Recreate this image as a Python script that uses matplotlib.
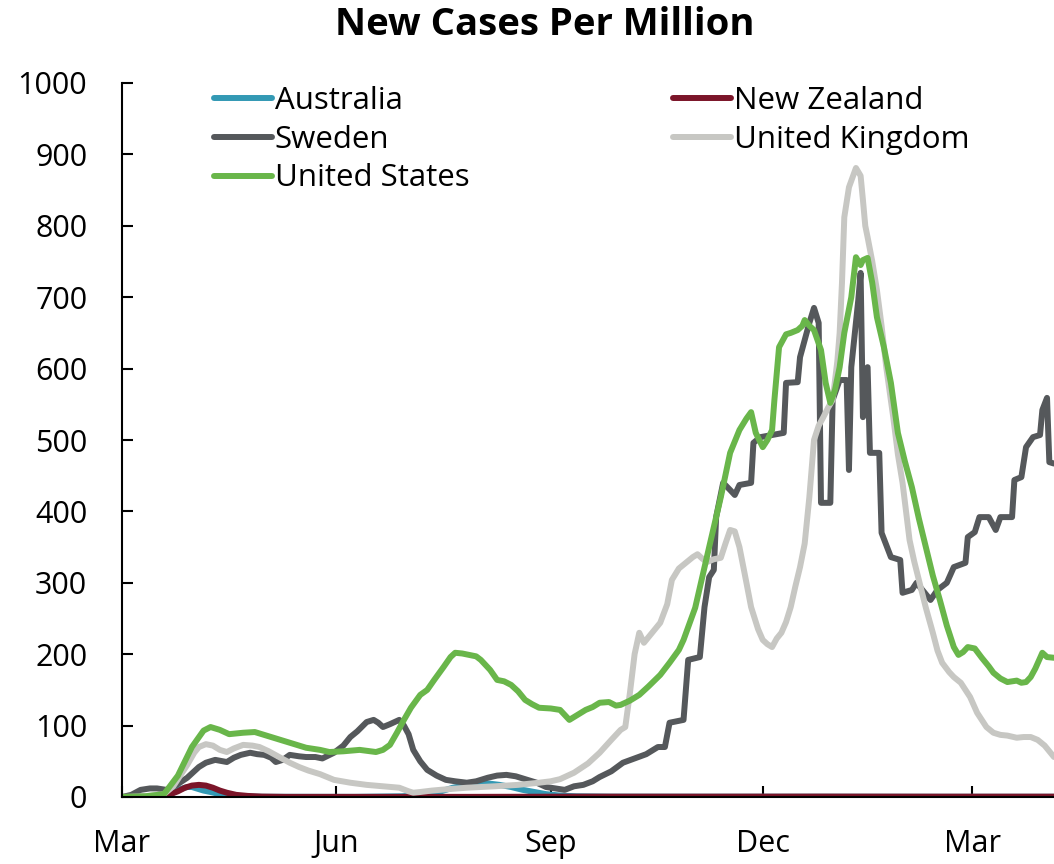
import matplotlib
matplotlib.use("Agg")
import matplotlib.pyplot as plt
import matplotlib.dates as mdates
import pandas as pd

plt.rcParams['font.family'] = ['Open Sans', 'DejaVu Sans']

# days since 1 Mar 2020, 7-day average new cases per million
START = pd.Timestamp('2020-03-01')

aus_day = [0, 14, 18, 22, 25, 28, 30, 32, 35, 38, 42, 46, 50, 60, 100, 120, 130, 137, 142, 147,
           152, 157, 162, 167, 172, 177, 182, 188, 195, 210, 250, 300, 350, 400]
aus_val = [0, 0.5, 2, 6, 11, 14, 14, 12, 9, 7, 4, 2, 1, 0.3, 0.2, 1, 3, 8, 13, 16,
           18, 19, 17, 14, 10, 7, 4, 2, 1, 0.5, 0.4, 0.4, 0.3, 0.3]

nz_day = [0, 16, 20, 24, 27, 30, 33, 36, 39, 42, 45, 49, 54, 60, 70, 150, 200, 250, 300, 350, 400]
nz_val = [0, 0.5, 3, 8, 13, 16, 17, 16, 13, 9, 6, 3, 1.5, 0.6, 0.2, 0.2, 0.5, 0.5, 0.6, 0.5, 0.5]

swe_day = [0, 4, 8, 12, 15, 19, 23, 28, 31, 33, 36, 40, 45, 48, 51, 55, 58, 61, 64, 66,
           69, 72, 76, 79, 83, 86, 91, 95, 98, 101, 105, 108, 110, 112, 115, 119, 121, 123, 125, 128,
           131, 135, 139, 143, 148, 152, 157, 161, 165, 169, 174, 178, 182, 186, 190, 194, 198, 202, 205, 210,
           215, 220, 225, 230, 233, 235, 241, 243, 248, 250, 252, 254, 255, 258, 261, 263, 265, 270, 271, 274,
           279, 284, 285, 290, 291, 293, 295, 297, 299, 300, 304, 305, 308, 311, 312, 313, 316, 317, 318, 320,
           321, 325, 326, 330, 334, 335, 339, 341, 344, 347, 350, 354, 357, 362, 363, 366, 368, 372, 375, 377,
           382, 383, 386, 388, 391, 394, 395, 397, 398, 400]
swe_val = [0, 3, 10, 12, 12, 10, 16, 27, 36, 42, 48, 52, 49, 55, 59, 62, 60, 59, 55, 49,
           52, 59, 57, 56, 56, 54, 62, 72, 84, 92, 105, 108, 104, 98, 102, 108, 100, 88, 66, 50,
           38, 30, 24, 22, 20, 22, 27, 30, 31, 29, 24, 20, 14, 12, 10, 15, 17, 22, 28, 36,
           48, 54, 60, 70, 70, 104, 108, 192, 196, 266, 308, 318, 392, 440, 430, 423, 437, 440, 496, 504,
           507, 510, 580, 581, 616, 640, 664, 685, 664, 412, 412, 556, 584, 584, 458, 602, 696, 734, 532, 602,
           482, 482, 370, 336, 332, 286, 290, 300, 288, 276, 290, 300, 322, 328, 364, 371, 392, 392, 374, 392,
           392, 444, 448, 490, 504, 507, 542, 559, 469, 467]

uk_day = [0, 10, 18, 22, 26, 28, 31, 33, 36, 39, 42, 45, 48, 52, 56, 59, 63, 68, 72, 76,
          80, 85, 91, 98, 105, 112, 119, 123, 125, 128, 133, 140, 148, 160, 170, 179, 184, 188, 194, 200,
          205, 210, 214, 216, 218, 220, 222, 224, 227, 231, 234, 236, 239, 242, 245, 247, 249, 251, 254, 257,
          259, 261, 263, 265, 268, 270, 273, 275, 277, 279, 281, 283, 285, 287, 289, 291, 293, 295, 297, 299,
          301, 303, 305, 307, 308, 309, 310, 312, 314, 315, 317, 318, 319, 320, 322, 324, 326, 328, 331, 333,
          335, 338, 340, 342, 345, 348, 350, 352, 355, 357, 360, 364, 367, 371, 374, 377, 380, 384, 387, 390,
          393, 396, 398, 400]
uk_val = [0, 1, 4, 15, 35, 45, 62, 70, 74, 72, 66, 63, 68, 73, 72, 70, 64, 55, 48, 42,
          37, 32, 24, 20, 17, 15, 13, 8, 6, 7, 9, 11, 13, 15, 17, 20, 22, 25, 34, 47,
          62, 80, 94, 98, 146, 200, 230, 216, 228, 244, 270, 304, 320, 328, 336, 340, 334, 329, 333, 335,
          355, 374, 372, 350, 300, 266, 235, 220, 214, 210, 222, 230, 245, 266, 295, 322, 355, 420, 500, 520,
          532, 545, 556, 610, 650, 720, 812, 854, 872, 881, 870, 836, 800, 784, 750, 710, 660, 602, 532, 480,
          440, 360, 330, 304, 265, 230, 205, 188, 175, 168, 160, 140, 118, 98, 90, 87, 86, 83, 84, 84,
          80, 72, 64, 56]

us_day = [0, 10, 18, 24, 30, 35, 38, 42, 46, 52, 57, 62, 68, 74, 79, 85, 89, 95, 102, 109,
          112, 115, 118, 121, 124, 128, 131, 134, 138, 141, 143, 146, 149, 152, 154, 158, 161, 164, 167, 170,
          173, 176, 179, 184, 188, 190, 192, 195, 199, 202, 205, 209, 212, 214, 218, 222, 226, 231, 235, 239,
          241, 246, 252, 257, 261, 265, 268, 270, 272, 275, 277, 279, 280, 282, 285, 287, 290, 292, 293, 295,
          297, 300, 302, 304, 306, 308, 310, 313, 315, 317, 318, 320, 322, 324, 327, 330, 333, 336, 339, 342,
          345, 348, 351, 354, 357, 359, 361, 363, 366, 369, 372, 374, 377, 380, 384, 386, 388, 390, 392, 395,
          397, 400]
us_val = [0, 1, 4, 30, 70, 93, 98, 94, 88, 90, 91, 86, 80, 74, 69, 66, 63, 64, 66, 63,
          66, 73, 90, 108, 125, 143, 150, 164, 182, 196, 202, 201, 199, 197, 192, 178, 164, 162, 157, 148,
          136, 130, 125, 124, 122, 115, 108, 114, 122, 126, 132, 133, 128, 129, 135, 143, 155, 171, 188, 206,
          220, 265, 350, 420, 482, 514, 530, 539, 510, 490, 500, 514, 556, 630, 648, 650, 654, 660, 668, 660,
          654, 626, 580, 552, 570, 602, 650, 700, 756, 745, 752, 755, 720, 672, 630, 580, 510, 470, 434, 390,
          350, 310, 276, 240, 210, 199, 203, 210, 208, 195, 183, 174, 166, 161, 163, 160, 161, 168, 180, 202,
          196, 195]

series = [
    ('Australia', aus_day, aus_val, '#3399b4'),
    ('New Zealand', nz_day, nz_val, '#7b1529'),
    ('Sweden', swe_day, swe_val, '#55585b'),
    ('United Kingdom', uk_day, uk_val, '#c7c7c3'),
    ('United States', us_day, us_val, '#69b64a'),
]

fig = plt.figure(figsize=(10.54, 8.64), dpi=100)
ax = fig.add_axes([122 / 1054, 67 / 864, 1 - 122 / 1054, 714 / 864])

lines = {}
for name, days, vals, color in series:
    dates = START + pd.to_timedelta(days, unit='D')
    ln, = ax.plot(dates, vals, color=color, lw=4.3, label=name, solid_capstyle='round')
    lines[name] = ln

ax.set_ylim(0, 1000)
ax.set_yticks(range(0, 1001, 100))
ax.set_xlim(START, START + pd.Timedelta(days=400))
ax.xaxis.set_major_locator(mdates.MonthLocator(bymonth=[3, 6, 9, 12]))
ax.xaxis.set_major_formatter(mdates.DateFormatter('%b'))

for s in ['top', 'right']:
    ax.spines[s].set_visible(False)
for s in ['left', 'bottom']:
    ax.spines[s].set_linewidth(1.5)
ax.tick_params(axis='y', direction='in', length=8, width=1.5, labelsize=22, pad=25)
ax.tick_params(axis='x', direction='in', length=8, width=1.5, labelsize=22, pad=23)

order = ['Australia', 'Sweden', 'United States', 'New Zealand', 'United Kingdom']
fig.legend([lines[n] for n in order], order, ncol=2, frameon=False, fontsize=22.5,
           loc='upper left', bbox_to_anchor=(214 / 1054, 1 - 86 / 864),
           handlelength=1.85, handletextpad=0.1, columnspacing=6.5,
           labelspacing=0.28, borderpad=0, borderaxespad=0)

fig.text(545 / 1054, 1 - 25 / 864, 'New Cases Per Million', ha='center', va='center',
         fontsize=27.5, fontweight='bold')

fig.savefig('out.png', dpi=100)
